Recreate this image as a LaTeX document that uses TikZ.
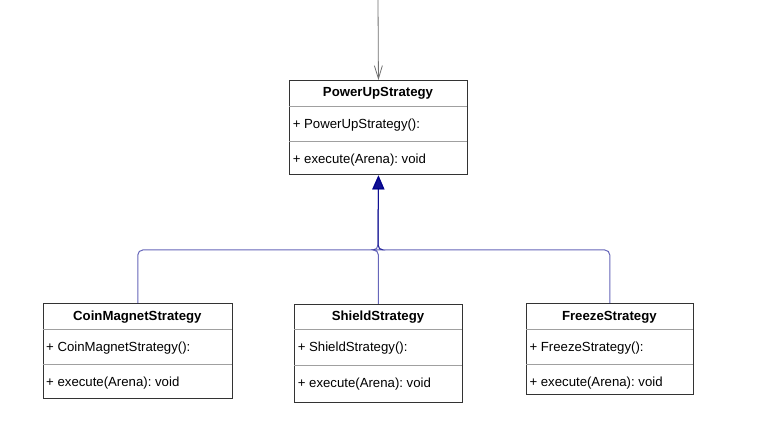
\documentclass[tikz,border=0pt]{standalone}
\usepackage{fontspec}
\setmainfont{Liberation Sans}
\usetikzlibrary{arrows.meta}
\frenchspacing

\definecolor{boxline}{HTML}{333333}
\definecolor{divline}{HTML}{A0A0A0}
\definecolor{depgrey}{HTML}{707070}
\definecolor{inhblue}{HTML}{00008C}

\begin{document}
\begin{tikzpicture}[x=1pt,y=-1pt,
  classbox/.style={draw=boxline,line width=0.9pt,fill=white,inner sep=0pt,anchor=north west},
  divider/.style={draw=divline,line width=0.9pt},
  ctitle/.style={font=\fontsize{13.2}{15}\selectfont\bfseries,anchor=base,inner sep=0pt},
  member/.style={font=\fontsize{13.2}{15}\selectfont,anchor=base west,inner sep=0pt},
  dep/.style={draw=depgrey,line width=0.8pt,-{Straight Barb[length=13pt,width=8pt]}},
  inh/.style={draw=inhblue,opacity=0.6,line width=1pt,rounded corners=5pt,-{Triangle[length=14pt,width=12pt,fill=inhblue]}},
]
\useasboundingbox[fill=white] (0,0) rectangle (763,446);

%%%% classes
%%%%
\foreach \n/\l/\r/\t/\a/\b/\e/\txt in{
power/289.3/466.7/80/106/141/174.5/PowerUpStrategy,
coin/42.7/232/303.3/329.3/364/397.7/CoinMagnetStrategy,
shield/294.3/461.7/304/329.3/365/402.3/ShieldStrategy,
freeze/526/692.7/303.3/329/364.3/394.3/FreezeStrategy%
}{
\pgfmathsetmacro\w{\r-\l}
\pgfmathsetmacro\h{\e-\t}
\pgfmathsetmacro\cx{(\l+\r)/2}
\node[classbox,minimum width=\w pt,minimum height=\h pt](\n) at(\l,\t) {};
\draw[divider] (\l,\a) -- (\r,\a);
\draw[divider] (\l,\b) -- (\r,\b);
\node[ctitle](\n-title) at(\cx,{\t+16.7}) {\txt};
\node[member](\n-ctor) at({\l+3.3},{\a+22.5}) {+ \txt():};
\node[member](\n-exec) at({\l+3.3},{\b+22.5}) {+ execute(Arena): void};
}

%%%% links
%%%%
\coordinate(src) at(378,0);
\coordinate(jn) at(378,250);
\draw[dep] (src) -- (power.north);

\foreach \c in{coin,shield,freeze}{
\draw[inh] (\c.north) |- (jn) -- (power.south);
}

\end{tikzpicture}
\end{document}
